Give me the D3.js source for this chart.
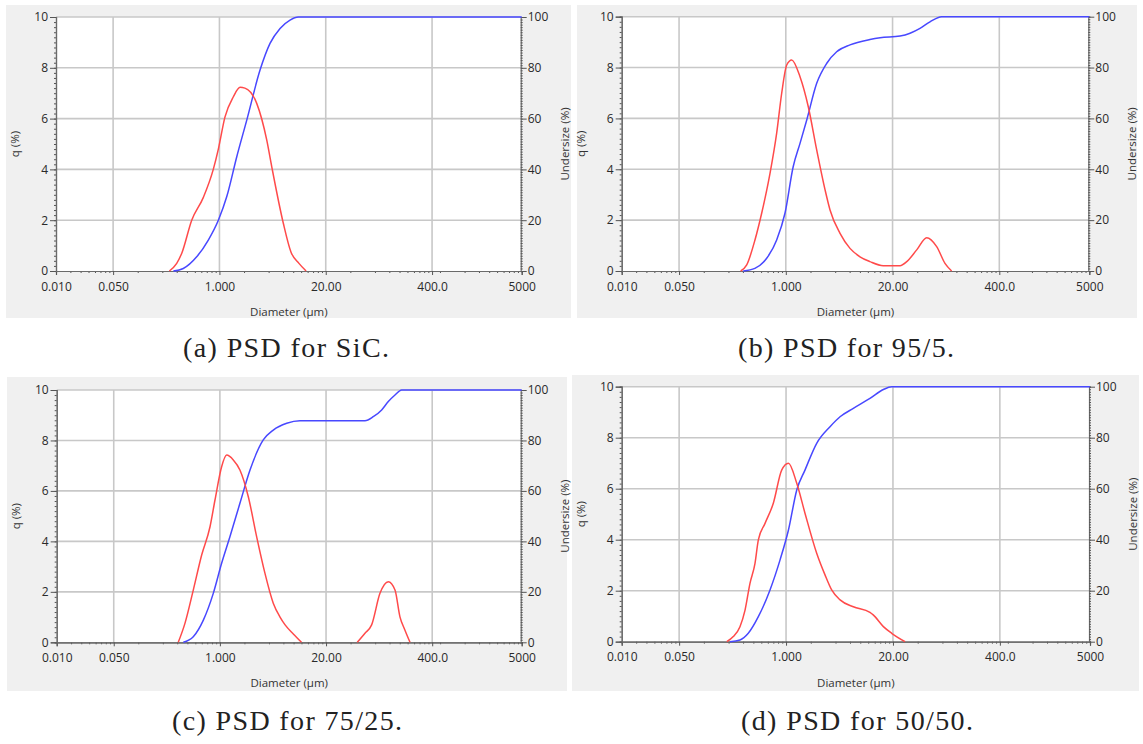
<!DOCTYPE html>
<html>
<head>
<meta charset="utf-8">
<script src="https://cdn.jsdelivr.net/npm/d3@7"></script>
<style>
body{margin:0;background:#fff;}
svg{display:block;}
</style>
</head>
<body>
<div class="chart"></div>
<script>
const W = 1143, H = 744;

// ticks used by the analyser software
const xTicks = [0.01, 0.05, 1, 20, 400, 5000];
const xTickLabels = ['0.010', '0.050', '1.000', '20.00', '400.0', '5000'];
const qTicks = [0, 2, 4, 6, 8, 10];
const underTicks = [0, 20, 40, 60, 80, 100];

// [diameter (um), value]
const sicQ = [[0.244,0],[0.30,0.3],[0.346,0.7],[0.458,2.0],[0.636,2.9],[0.841,4.0],[0.97,4.8],[1.17,6.07],[1.48,6.86],[1.79,7.23],[2.05,7.2],[2.86,6.6],[3.79,5.16],[4.37,4.1],[6.05,1.88],[7.5,0.75],[9.4,0.3],[11.5,0]];
const sicUnder = [[0.273,0],[0.361,1.0],[0.527,5.6],[0.731,12.2],[0.97,20],[1.23,29.3],[1.63,45],[2.16,59.4],[3.14,79.1],[4.16,89.6],[5.52,95.5],[7.31,98.8],[9.25,100],[5000,100]];

const mix95Q = [[0.282,0],[0.334,0.24],[0.421,1.22],[0.508,2.27],[0.642,3.84],[0.774,5.42],[0.891,6.99],[1.026,8.10],[1.18,8.30],[1.49,7.64],[1.88,6.46],[2.38,4.76],[3.01,3.19],[3.46,2.40],[4.58,1.48],[6.06,0.89],[8.02,0.56],[10.6,0.37],[15.4,0.21],[24.7,0.21],[29.8,0.37],[39.4,0.83],[52.1,1.31],[69.0,0.96],[87.1,0.30],[105,0]];
const mix95Under = [[0.303,0],[0.42,1.05],[0.585,5],[0.774,12.2],[0.977,22.7],[1.23,41],[1.49,50.2],[1.80,59.4],[2.38,73.8],[3.16,81.7],[4.17,86.2],[6.06,88.9],[10.6,91.0],[14.1,91.7],[24.7,92.4],[32.7,93.5],[43.2,95.4],[57.2,98],[79.4,100],[5000,100]];

const mix75Q = [[0.309,0],[0.373,0.75],[0.472,2.07],[0.598,3.46],[0.757,4.58],[0.871,5.64],[1.05,6.96],[1.21,7.42],[1.46,7.23],[1.76,6.83],[2.23,5.77],[2.82,4.19],[3.57,2.73],[4.51,1.55],[5.46,1.0],[6.3,0.69],[7.94,0.33],[10,0],[30,null],[48.3,0],[60,0.36],[72.4,0.69],[91.6,1.94],[116,2.40],[140,2.07],[161,1.01],[185,0.49],[214,0]];
const mix75Under = [[0.356,0],[0.472,2.2],[0.627,8.8],[0.83,19.4],[1.05,31.3],[1.33,41.9],[1.76,55.1],[2.34,68.3],[3.40,80.2],[4.51,84.1],[6.59,86.8],[9.59,87.8],[60,87.8],[75.9,89.4],[96.1,92.1],[116,95.4],[140,98.0],[169,100],[5000,100]];

const mix50Q = [[0.190,0],[0.228,0.2],[0.275,0.59],[0.317,1.24],[0.364,2.29],[0.419,3.07],[0.460,3.99],[0.555,4.64],[0.70,5.43],[0.885,6.73],[1.07,7.0],[1.35,6.21],[1.70,5.04],[2.36,3.47],[2.98,2.62],[3.59,2.03],[4.54,1.64],[6.59,1.37],[10.5,1.15],[11.5,1.05],[15.3,0.59],[19.3,0.33],[28.1,0]];
const mix50Under = [[0.208,0],[0.275,0.67],[0.347,3.3],[0.46,9.8],[0.638,20.3],[0.844,32],[1.07,43.8],[1.35,59.5],[1.70,67.3],[2.36,77.8],[3.43,84.3],[4.54,88.2],[6.59,91.5],[10.5,95.4],[15.3,98.9],[19.3,100],[5000,100]];

const captions = ['(a) PSD for SiC.', '(b) PSD for 95/5.', '(c) PSD for 75/25.', '(d) PSD for 50/50.'];

// layout of the four screenshots (caption: centre x, baseline y, width)
const panels = [
	{bg:{x:6, y:5, w:565, h:313}, m:{l:56, t:17, r:521.7, b:271}, q:sicQ, under:sicUnder, cap:captions[0], capX:286, capY:357, capW:206},
	{bg:{x:577, y:5, w:560, h:313}, m:{l:621.7, t:16.7, r:1089.3, b:271}, q:mix95Q, under:mix95Under, cap:captions[1], capX:846, capY:357, capW:216},
	{bg:{x:7, y:377, w:560, h:314}, m:{l:56.7, t:390, r:521.7, b:642.3}, q:mix75Q, under:mix75Under, cap:captions[2], capX:287, capY:730, capW:230},
	{bg:{x:572, y:375, w:567, h:316}, m:{l:621.7, t:386.7, r:1090, b:641.7}, q:mix50Q, under:mix50Under, cap:captions[3], capX:857, capY:730, capW:232}
];

const svg = d3.select('.chart')
	.append('svg')
		.attr('width', W)
		.attr('height', H);

const UI_FONT = '"Open Sans", "Noto Sans", sans-serif';

panels.forEach(drawPanel);

function minorDiameters(){
	//ticks every tenth of the upper label inside each labelled interval
	const out = [];
	for(let i = 0; i < xTicks.length - 1; i++){
		const a = xTicks[i], b = xTicks[i+1], step = b / 10;
		for(let k = 1; k < 10; k++){
			const v = k * step;
			if(v > a * 1.0001 && v < b * 0.9999) out.push(v);
		}
	}
	return out;
}

function drawPanel(p){
	const g = svg.append('g');
	const m = p.m;

	g.append('rect')
		.attr('x', p.bg.x).attr('y', p.bg.y)
		.attr('width', p.bg.w).attr('height', p.bg.h)
		.style('fill', '#f0f0f0');

	g.append('rect')
		.attr('x', m.l).attr('y', m.t)
		.attr('width', m.r - m.l).attr('height', m.b - m.t)
		.style('fill', '#fff');

	const x = d3.scaleLog().domain([0.01, 5000]).range([m.l, m.r]);
	const yq = d3.scaleLinear().domain([0, 10]).range([m.b, m.t]);
	const yu = d3.scaleLinear().domain([0, 100]).range([m.b, m.t]);

	//grid
	g.selectAll('.vgrid')
		.data(xTicks.slice(1, -1))
		.enter().append('line')
		.attr('x1', d => x(d)).attr('x2', d => x(d))
		.attr('y1', m.t).attr('y2', m.b)
		.style('stroke', '#c8c8c8').style('stroke-width', 1.6);
	g.selectAll('.hgrid')
		.data(qTicks.slice(1))
		.enter().append('line')
		.attr('x1', m.l).attr('x2', m.r)
		.attr('y1', d => yq(d)).attr('y2', d => yq(d))
		.style('stroke', '#c8c8c8').style('stroke-width', 1.6);

	//minor ticks
	const minorX = d3.axisBottom(x).tickValues(minorDiameters()).tickSize(2).tickFormat('');
	const minorQ = d3.axisLeft(yq).tickValues(d3.range(0, 10.01, 0.2)).tickSize(2).tickFormat('');
	const minorU = d3.axisRight(yu).tickValues(d3.range(0, 100.01, 1)).tickSize(2).tickFormat('');

	g.append('g').attr('transform', `translate(0,${m.b})`).call(minorX);
	g.append('g').attr('transform', `translate(${m.l},0)`).call(minorQ);
	g.append('g').attr('transform', `translate(${m.r - 1},0)`).call(minorU);

	//main axes
	const axX = d3.axisBottom(x).tickValues(xTicks).tickSize(4).tickPadding(7)
		.tickFormat((d, i) => xTickLabels[i]);
	const axQ = d3.axisLeft(yq).tickValues(qTicks).tickSize(6).tickPadding(2);
	const axU = d3.axisRight(yu).tickValues(underTicks).tickSize(5).tickPadding(1);

	g.append('g').attr('class', 'ax-x').attr('transform', `translate(0,${m.b})`).call(axX);
	g.append('g').attr('class', 'ax-q').attr('transform', `translate(${m.l},0)`).call(axQ);
	g.append('g').attr('class', 'ax-u').attr('transform', `translate(${m.r},0)`).call(axU);

	g.selectAll('.domain').style('stroke', '#6a6a6a').style('stroke-width', 1.2);
	g.selectAll('.tick line').style('stroke', '#555');
	g.select('.ax-u .domain').remove();
	g.selectAll('.tick text')
		.style('font-family', UI_FONT)
		.style('font-size', '12px')
		.style('fill', '#2a2a2a');

	//curves
	const lineQ = d3.line()
		.defined(d => d[1] !== null)
		.x(d => x(d[0])).y(d => yq(d[1]))
		.curve(d3.curveMonotoneX);
	const lineU = d3.line()
		.x(d => x(d[0])).y(d => yu(d[1]))
		.curve(d3.curveMonotoneX);

	g.append('path').datum(p.under)
		.attr('d', lineU)
		.style('fill', 'none').style('stroke', '#4848ff').style('stroke-width', 1.5);
	g.append('path').datum(p.q)
		.attr('d', lineQ)
		.style('fill', 'none').style('stroke', '#ff4a4a').style('stroke-width', 1.5);

	//titles
	g.append('text')
		.attr('x', (m.l + m.r) / 2).attr('y', m.b + 45)
		.attr('text-anchor', 'middle')
		.style('font-family', UI_FONT).style('font-size', '11.5px').style('fill', '#333')
		.text('Diameter (μm)');

	g.append('text')
		.attr('transform', `translate(${m.l - 37},${(m.t + m.b) / 2}) rotate(-90)`)
		.attr('text-anchor', 'middle')
		.style('font-family', UI_FONT).style('font-size', '11.5px').style('fill', '#333')
		.text('q (%)');

	g.append('text')
		.attr('transform', `translate(${m.r + 47},${(m.t + m.b) / 2}) rotate(-90)`)
		.attr('text-anchor', 'middle')
		.style('font-family', UI_FONT).style('font-size', '11.5px').style('fill', '#333')
		.text('Undersize (%)');

	//figure caption
	svg.append('text')
		.attr('x', p.capX - p.capW / 2).attr('y', p.capY)
		.attr('textLength', p.capW)
		.attr('lengthAdjust', 'spacing')
		.style('font-family', '"Liberation Serif", "DejaVu Serif", serif')
		.style('font-size', '28px')
		.style('fill', '#222')
		.text(p.cap);
}
</script>
</body>
</html>
